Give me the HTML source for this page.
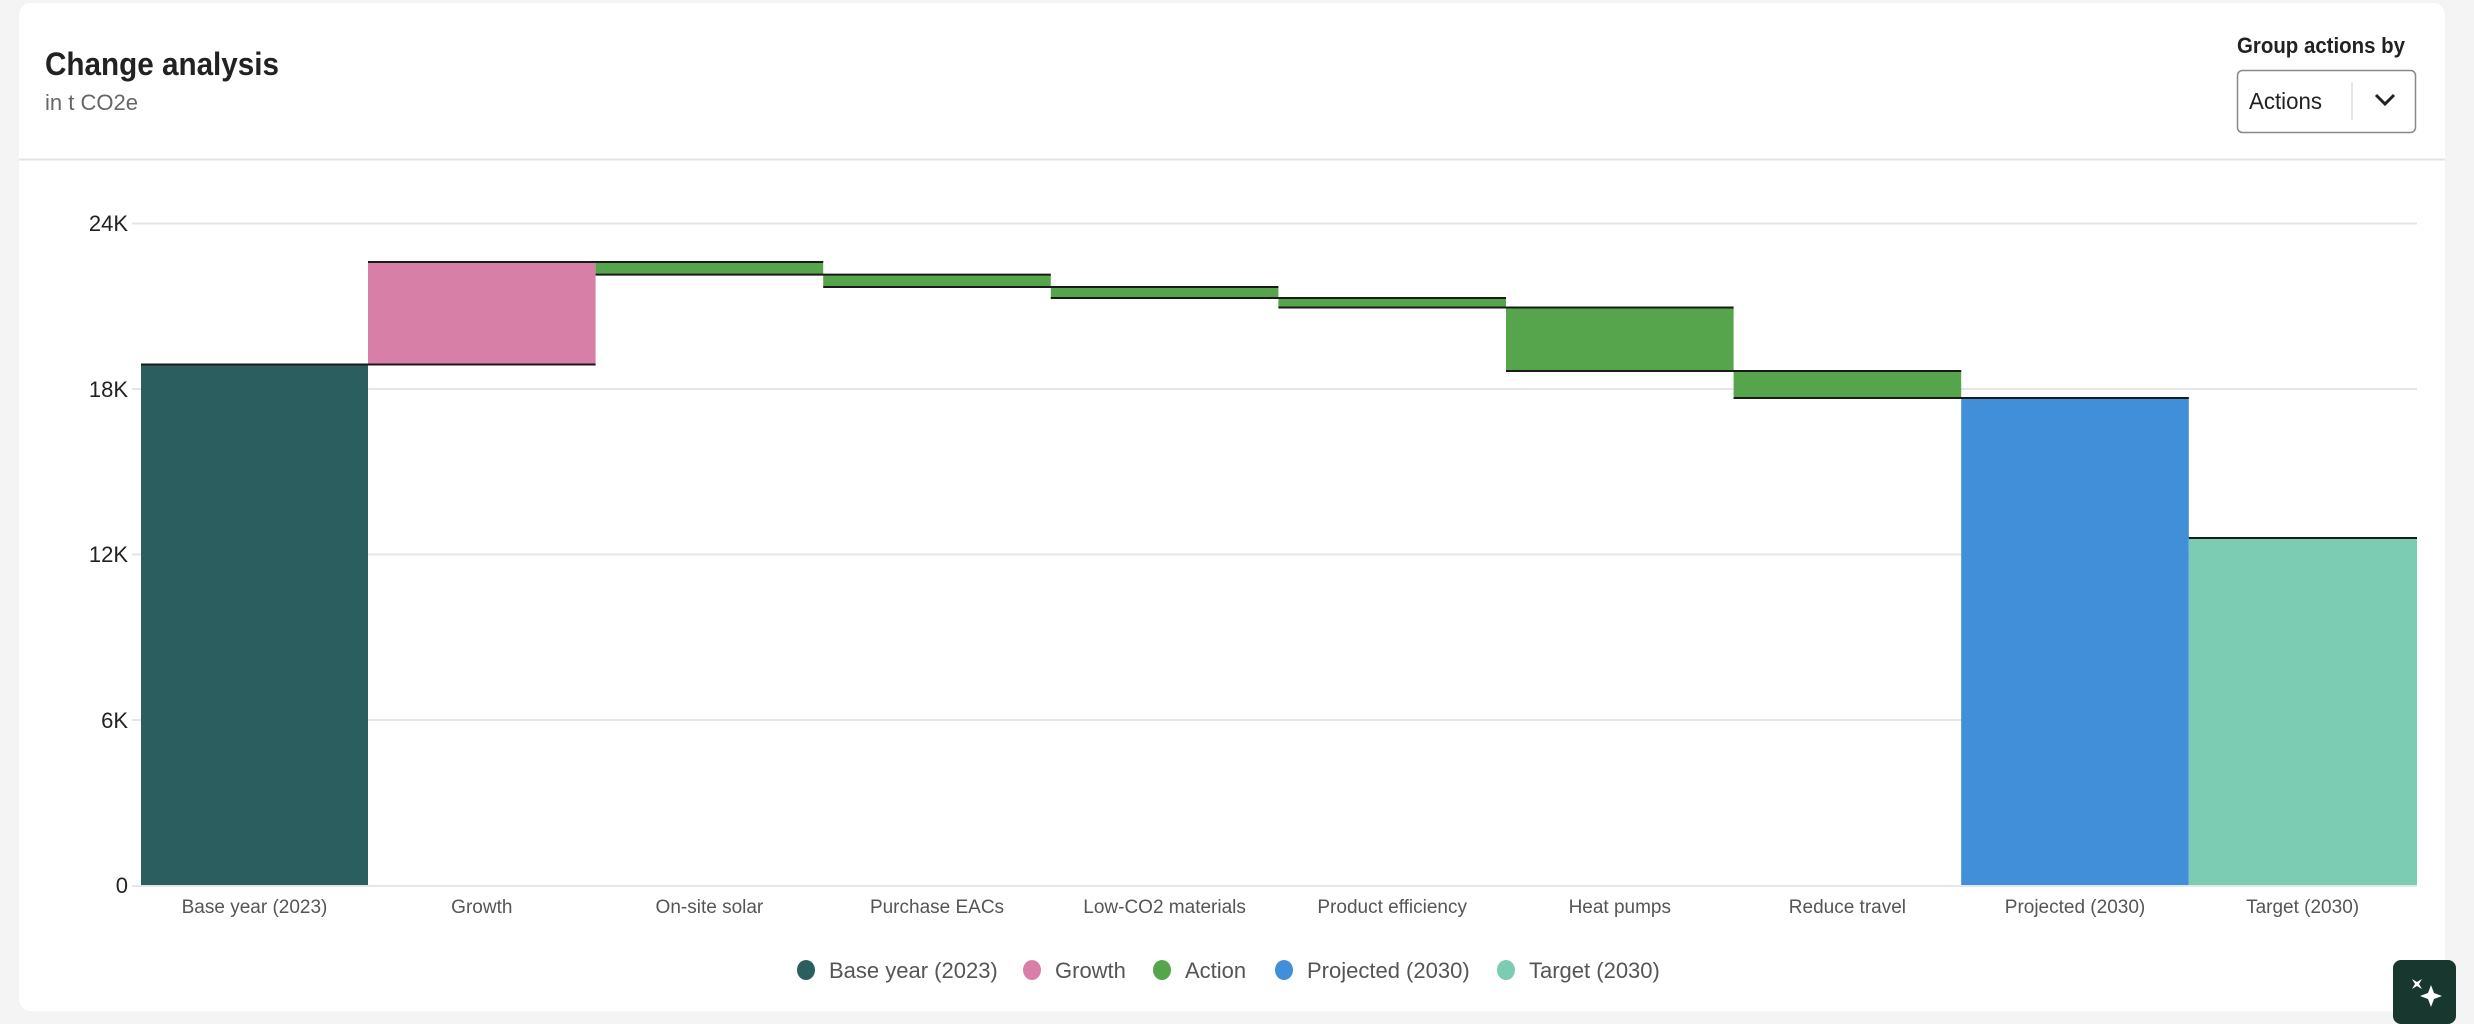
<!DOCTYPE html>
<html><head><meta charset="utf-8"><style>
body{margin:0;width:2474px;height:1024px;background:#f4f4f4;font-family:"Liberation Sans",sans-serif;overflow:hidden;position:relative}
.card{position:absolute;left:19px;top:3px;width:2426px;height:1008px;background:#fff;border-radius:12px}
</style></head><body>
<div class="card"></div>
<svg width="2474" height="1024" style="position:absolute;left:0;top:0" font-family="Liberation Sans, sans-serif">
<text x="45" y="75" font-size="32" font-weight="bold" fill="#222" textLength="234" lengthAdjust="spacingAndGlyphs">Change analysis</text>
<text x="45" y="110" font-size="22" fill="#666">in t CO2e</text>
<line x1="19" y1="159.5" x2="2445" y2="159.5" stroke="#e4e4e4" stroke-width="2"/>
<text x="2237" y="53" font-size="22" font-weight="bold" fill="#222" textLength="168" lengthAdjust="spacingAndGlyphs">Group actions by</text>
<rect x="2237.5" y="70.5" width="178" height="62" rx="5" fill="#fff" stroke="#888" stroke-width="1.5"/>
<line x1="2352" y1="82" x2="2352" y2="120" stroke="#ddd" stroke-width="1.5"/>
<text x="2249" y="109" font-size="23" fill="#222" textLength="73" lengthAdjust="spacingAndGlyphs">Actions</text>
<polyline points="2376,95 2385,104 2394,95" fill="none" stroke="#222" stroke-width="3"/>
<g stroke="#e6e6e6" stroke-width="2">
<line x1="132" y1="223.5" x2="2417" y2="223.5"/>
<line x1="132" y1="389" x2="2417" y2="389"/>
<line x1="132" y1="554.5" x2="2417" y2="554.5"/>
<line x1="132" y1="720" x2="2417" y2="720"/>
<line x1="132" y1="886" x2="2417" y2="886"/>
</g>
<g font-size="22" fill="#222" text-anchor="end">
<text x="128" y="231">24K</text><text x="128" y="397">18K</text><text x="128" y="562">12K</text><text x="128" y="728">6K</text><text x="128" y="893">0</text>
</g>
<rect x="141" y="364.5" width="227" height="520.5" fill="#2b5e5e"/>
<rect x="368" y="262" width="227.6" height="102.5" fill="#d87fa8"/>
<rect x="595.6" y="262" width="227.6" height="12.6" fill="#56a44b"/>
<rect x="823.2" y="274.6" width="227.6" height="12.4" fill="#56a44b"/>
<rect x="1050.8" y="287" width="227.6" height="11" fill="#56a44b"/>
<rect x="1278.4" y="298" width="227.6" height="9.5" fill="#56a44b"/>
<rect x="1506" y="307.5" width="227.6" height="63.5" fill="#56a44b"/>
<rect x="1733.6" y="371" width="227.6" height="27" fill="#56a44b"/>
<rect x="1961.2" y="398" width="227.6" height="487" fill="#418fd9"/>
<rect x="2188.8" y="538" width="228.2" height="347" fill="#7ccbb3"/>
<g stroke="#1a1a1a" stroke-width="2">
<line x1="141" y1="364.5" x2="595.6" y2="364.5"/>
<line x1="368" y1="262" x2="823.2" y2="262"/>
<line x1="595.6" y1="274.6" x2="1050.8" y2="274.6"/>
<line x1="823.2" y1="287" x2="1278.4" y2="287"/>
<line x1="1050.8" y1="298" x2="1506" y2="298"/>
<line x1="1278.4" y1="307.5" x2="1733.6" y2="307.5"/>
<line x1="1506" y1="371" x2="1961.2" y2="371"/>
<line x1="1733.6" y1="398" x2="2188.8" y2="398"/>
<line x1="2188.8" y1="538" x2="2417" y2="538"/>
</g>
<g font-size="19" fill="#555" text-anchor="middle">
<text x="254.5" y="913">Base year (2023)</text>
<text x="481.8" y="913">Growth</text>
<text x="709.4" y="913">On-site solar</text>
<text x="937" y="913">Purchase EACs</text>
<text x="1164.6" y="913">Low-CO2 materials</text>
<text x="1392.2" y="913">Product efficiency</text>
<text x="1619.8" y="913">Heat pumps</text>
<text x="1847.4" y="913">Reduce travel</text>
<text x="2075" y="913">Projected (2030)</text>
<text x="2302.6" y="913">Target (2030)</text>
</g>
<g font-size="22" fill="#555">
<ellipse cx="806" cy="970" rx="9" ry="10" fill="#2b5e5e"/><text x="829" y="978">Base year (2023)</text>
<ellipse cx="1032" cy="970" rx="9" ry="10" fill="#d87fa8"/><text x="1055" y="978">Growth</text>
<ellipse cx="1162" cy="970" rx="9" ry="10" fill="#56a44b"/><text x="1185" y="978">Action</text>
<ellipse cx="1284" cy="970" rx="9" ry="10" fill="#418fd9"/><text x="1307" y="978">Projected (2030)</text>
<ellipse cx="1506" cy="970" rx="9" ry="10" fill="#7ccbb3"/><text x="1529" y="978">Target (2030)</text>
</g>
<rect x="2393" y="960" width="63" height="64" rx="8" fill="#17372f"/>
<path d="M2414 977 l3 5 5 -3 -3 5 3 5 -5 -3 -5 3 3 -5 -3 -5 5 3 z" fill="#fff"/>
<path d="M2431 985 l3 8 8 3 -8 3 -3 8 -3 -8 -8 -3 8 -3 z" fill="#fff"/>
</svg>
</body></html>
